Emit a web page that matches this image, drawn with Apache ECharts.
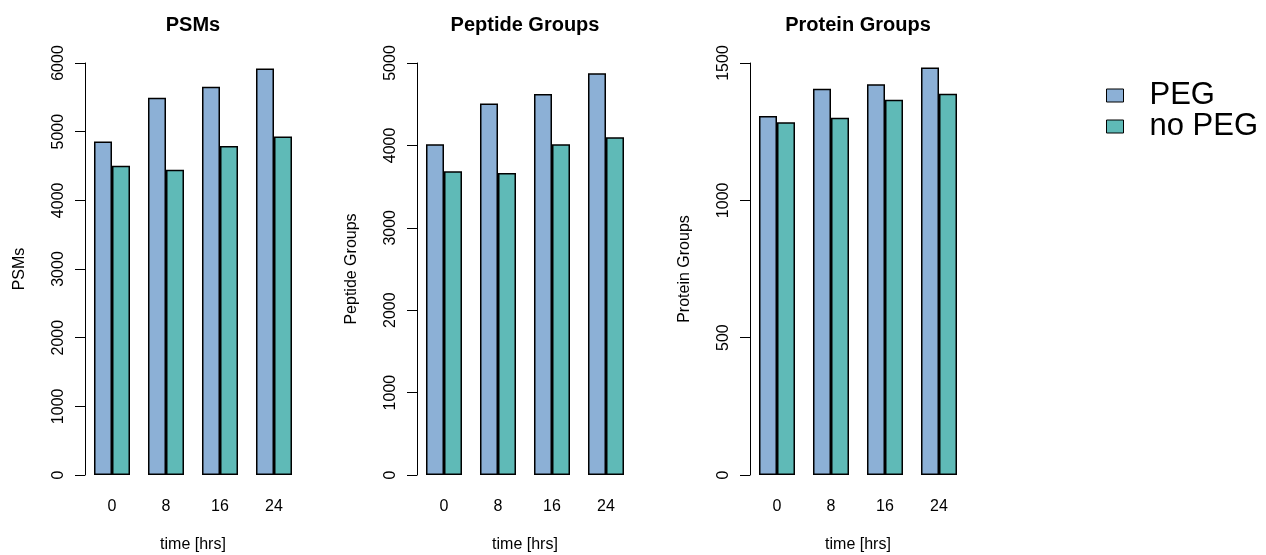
<!DOCTYPE html>
<html>
<head>
<meta charset="utf-8">
<script src="https://cdn.jsdelivr.net/npm/echarts@6/dist/echarts.min.js"></script>
<style>
    html,body{margin:0;padding:0;background:#fff}
    #chart{width:1266px;height:555px}
</style>
</head>
<body>
<div id="chart"></div>
<script>
// 数据
const times = ["0","8","16","24"]
const psmPeg = [4855,5495,5655,5920]
const psmNoPeg = [4505,4445,4790,4930]
const pepPeg = [4015,4510,4625,4875]
const pepNoPeg = [3685,3665,4015,4100]
const protPeg = [1307,1406,1423,1484]
const protNoPeg = [1284,1301,1366,1388]

const titles = ["PSMs","Peptide Groups","Protein Groups"]
const yMax = [6000,5000,1500]
const yStep = [1000,1000,500]
const pegData = [psmPeg,pepPeg,protPeg]
const noPegData = [psmNoPeg,pepNoPeg,protNoPeg]

const font = "Liberation Sans, Arial, sans-serif"
const gridLeft = [85,417,750]
const gridWidth = 216

const chartDom = document.getElementById("chart")
const myChart = echarts.init(chartDom)

const option = {
    animation:false,
    textStyle:{fontFamily:font,color:"#000"},
    title:titles.map((t,i)=>({
        text:t,
        left:gridLeft[i]+gridWidth/2,
        top:15,
        padding:0,
        textAlign:"center",
        textStyle:{fontFamily:font,fontSize:20,fontWeight:"bold",color:"#000"}
    })),
    legend:{
        orient:"vertical",
        left:1106,
        top:80,
        padding:0,
        itemGap:0,
        itemWidth:17,
        itemHeight:13,
        icon:"rect",
        data:["PEG","no PEG"],
        itemStyle:{borderColor:"#000",borderWidth:1},
        textStyle:{fontFamily:font,fontSize:31,color:"#000",lineHeight:29,padding:[0,0,0,21]}
    },
    // 固定绘图区，不让 v6 自动收缩
    grid:gridLeft.map(l=>({left:l,width:gridWidth,top:63,height:412,outerBoundsMode:"none"})),
    xAxis:titles.map((t,i)=>({
        type:"category",
        gridIndex:i,
        data:times,
        name:"time [hrs]",
        nameLocation:"middle",
        nameGap:62,
        nameTextStyle:{fontFamily:font,fontSize:16,color:"#000"},
        axisLine:{show:false},
        axisTick:{show:false},
        axisLabel:{margin:24,fontFamily:font,fontSize:16,color:"#000"}
    })),
    yAxis:titles.map((t,i)=>({
        type:"value",
        gridIndex:i,
        min:0,
        max:yMax[i],
        interval:yStep[i],
        name:t,
        nameLocation:"middle",
        nameGap:57,
        nameRotate:90,
        nameTextStyle:{fontFamily:font,fontSize:16,color:"#000"},
        axisLine:{show:true,lineStyle:{color:"#000",width:1}},
        axisTick:{show:true,length:10,lineStyle:{color:"#000",width:1}},
        axisLabel:{rotate:90,margin:18,fontFamily:font,fontSize:16,color:"#000",formatter:v=>String(v)},
        splitLine:{show:false}
    })),
    series:[]
}

// 每个面板两组柱子
titles.forEach((t,i)=>{
    option.series.push({
        name:"PEG",
        type:"bar",
        xAxisIndex:i,
        yAxisIndex:i,
        data:pegData[i],
        barGap:"0%",
        barCategoryGap:"33.33%",
        itemStyle:{color:"#8CB0D6",borderColor:"#000",borderWidth:1.5}
    })
    option.series.push({
        name:"no PEG",
        type:"bar",
        xAxisIndex:i,
        yAxisIndex:i,
        data:noPegData[i],
        barGap:"0%",
        barCategoryGap:"33.33%",
        itemStyle:{color:"#5FBAB7",borderColor:"#000",borderWidth:1.5}
    })
})

myChart.setOption(option)
</script>
</body>
</html>
